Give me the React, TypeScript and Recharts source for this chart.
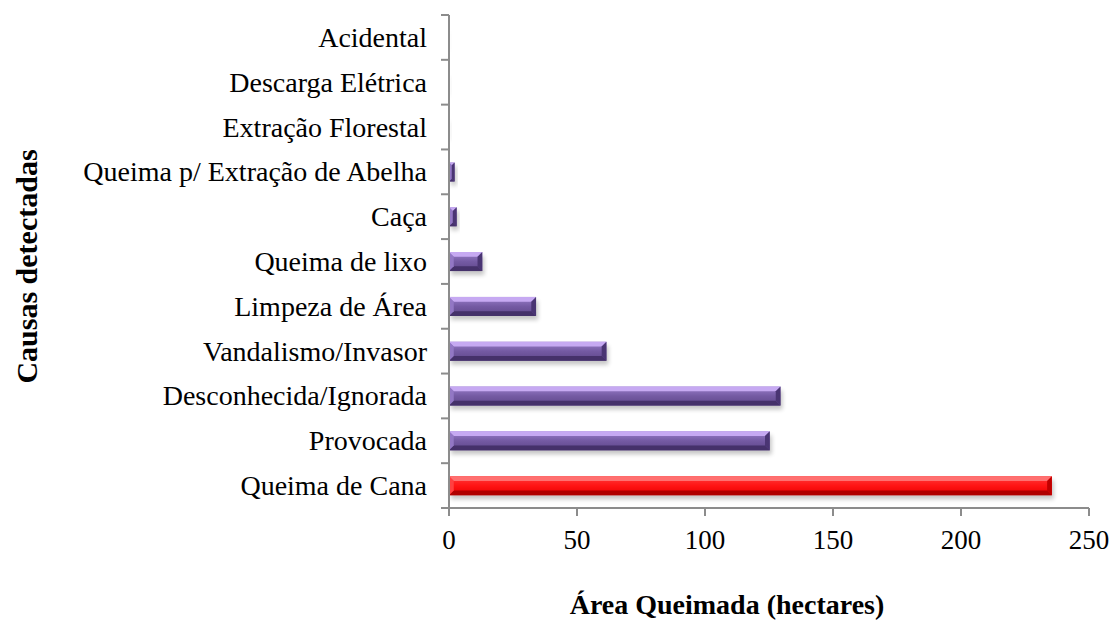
import { BarChart, Bar, XAxis, YAxis, Cell } from "recharts";

const causes = [
  "Acidental",
  "Descarga Elétrica",
  "Extração Florestal",
  "Queima p/ Extração de Abelha",
  "Caça",
  "Queima de lixo",
  "Limpeza de Área",
  "Vandalismo/Invasor",
  "Desconhecida/Ignorada",
  "Provocada",
  "Queima de Cana",
];

const burnedArea = [0.1, 0.2, 0.3, 2.2, 3, 13, 34, 61.5, 129.5, 125.3, 235.5];

const xTicks = [0, 50, 100, 150, 200, 250];

const data = causes.map((cause, i) => ({ cause, area: burnedArea[i] }));

const FONT = '"Liberation Serif", "Times New Roman", serif';
const AXIS = "#8c8c8c";

const palettes: Record<string, any> = {
  purple: {
    top: "#9a7fcb",
    mid: "#745aa3",
    bottom: "#5e4689",
    bevelTop: "#c6a9f2",
    bevelBottom: "#45316a",
    bevelLeft: "#9277c4",
    bevelRight: "#4a3573",
  },
  red: {
    top: "#ff3c3c",
    mid: "#ff1414",
    bottom: "#e80000",
    bevelTop: "#ff7070",
    bevelBottom: "#b00000",
    bevelLeft: "#ff4040",
    bevelRight: "#c00000",
  },
};

// bar with a bevelled edge and a soft drop shadow, like the office 3D preset
const BevelBar = (props: any) => {
  const { x, y, width, height, fill } = props;
  if (!width || width <= 0) return null;
  const p = palettes[fill] || palettes.purple;
  const b = Math.min(5, width / 2, height / 4);
  const gid = `grad-${fill}`;
  return (
    <g>
      <rect
        x={x + 2}
        y={y + 4}
        width={width}
        height={height}
        fill="#000"
        opacity={0.22}
        filter="url(#barShadow)"
      />
      <rect x={x} y={y} width={width} height={height} fill={`url(#${gid})`} />
      <polygon
        points={`${x},${y} ${x + width},${y} ${x + width - b},${y + b} ${x + b},${y + b}`}
        fill={p.bevelTop}
      />
      <polygon
        points={`${x},${y + height} ${x + width},${y + height} ${x + width - b},${y + height - b} ${x + b},${y + height - b}`}
        fill={p.bevelBottom}
      />
      <polygon
        points={`${x},${y} ${x + b},${y + b} ${x + b},${y + height - b} ${x},${y + height}`}
        fill={p.bevelLeft}
      />
      <polygon
        points={`${x + width},${y} ${x + width - b},${y + b} ${x + width - b},${y + height - b} ${x + width},${y + height}`}
        fill={p.bevelRight}
      />
    </g>
  );
};

// label at the band centre, tick mark at the band edges
const CategoryTick = (props: any) => {
  const { x, y, payload, index } = props;
  const half = payload?.offset ?? 22.4;
  return (
    <g>
      <text
        x={x - 22}
        y={y}
        textAnchor="end"
        dominantBaseline="central"
        fontFamily={FONT}
        fontSize={28}
        fill="#000"
      >
        {payload.value}
      </text>
      <line x1={x - 8} x2={x} y1={y + half} y2={y + half} stroke={AXIS} strokeWidth={2} />
      {index === 0 && (
        <line x1={x - 8} x2={x} y1={y - half} y2={y - half} stroke={AXIS} strokeWidth={2} />
      )}
    </g>
  );
};

const YTitle = (props: any) => {
  const { viewBox } = props;
  const cy = viewBox.y + viewBox.height / 2 + 5;
  const cx = 26;
  return (
    <text
      x={cx}
      y={cy}
      transform={`rotate(-90, ${cx}, ${cy})`}
      textAnchor="middle"
      dominantBaseline="central"
      fontFamily={FONT}
      fontSize={30}
      fontWeight="bold"
      fill="#000"
    >
      Causas detectadas
    </text>
  );
};

const XTitle = () => (
  <text
    x={727}
    y={604}
    textAnchor="middle"
    dominantBaseline="central"
    fontFamily={FONT}
    fontSize={28}
    fontWeight="bold"
    fill="#000"
  >
    Área Queimada (hectares)
  </text>
);

export default function App() {
  return (
    <div style={{ position: "absolute", left: 0, top: 0, width: 1110, height: 623, background: "#fff" }}>
      <BarChart
        width={1110}
        height={623}
        data={data}
        layout="vertical"
        margin={{ top: 15, right: 21, left: 0, bottom: 0 }}
        barCategoryGap={0}
      >
        <defs>
          <filter id="barShadow" x="-10%" y="-50%" width="120%" height="200%">
            <feGaussianBlur stdDeviation="2" />
          </filter>
          {Object.keys(palettes).map((k) => (
            <linearGradient key={k} id={`grad-${k}`} x1="0" y1="0" x2="0" y2="1">
              <stop offset="0%" stopColor={palettes[k].top} />
              <stop offset="50%" stopColor={palettes[k].mid} />
              <stop offset="100%" stopColor={palettes[k].bottom} />
            </linearGradient>
          ))}
        </defs>
        <XAxis
          type="number"
          domain={[0, 250]}
          ticks={xTicks}
          height={115}
          axisLine={{ stroke: AXIS, strokeWidth: 2 }}
          tickLine={{ stroke: AXIS, strokeWidth: 2 }}
          tickSize={8}
          tickMargin={14}
          tick={{ fill: "#000", fontSize: 27, fontFamily: FONT }}
          label={<XTitle />}
        />
        <YAxis
          type="category"
          dataKey="cause"
          width={449}
          axisLine={{ stroke: AXIS, strokeWidth: 2 }}
          tickLine={false}
          tickSize={0}
          tickMargin={0}
          tick={<CategoryTick />}
          interval={0}
          label={<YTitle />}
        />
        <Bar dataKey="area" barSize={19} shape={<BevelBar />} isAnimationActive={false}>
          {data.map((d) => (
            <Cell key={d.cause} fill={d.cause === "Queima de Cana" ? "red" : "purple"} />
          ))}
        </Bar>
      </BarChart>
    </div>
  );
}
